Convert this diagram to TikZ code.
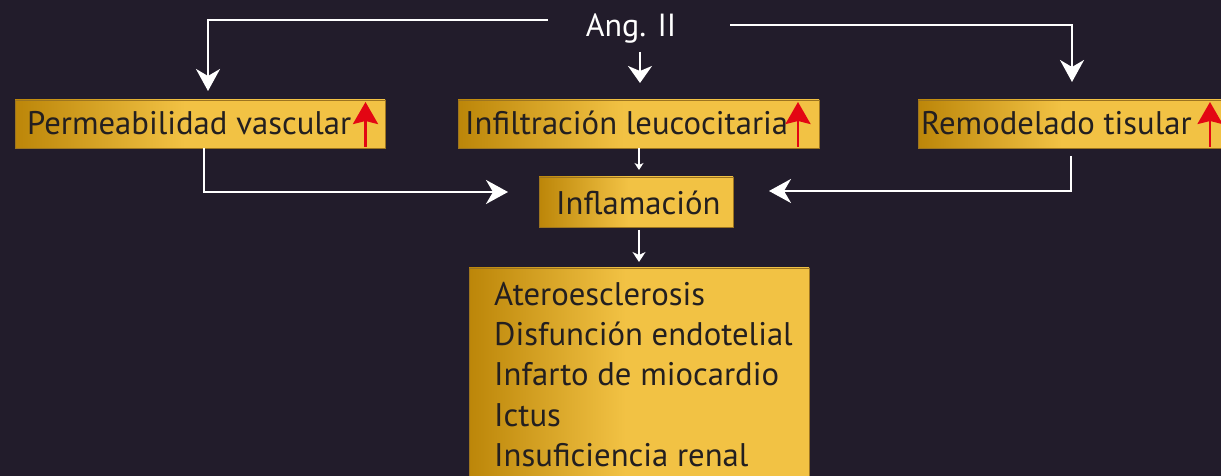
\documentclass[tikz,border=0pt]{standalone}
\usepackage{fontspec}
\setmainfont{PT Sans}
\usetikzlibrary{arrows.meta}
\definecolor{bg}{HTML}{221C2B}
\definecolor{gd}{HTML}{BC8609}
\definecolor{gl}{HTML}{F2C244}
\definecolor{gb}{HTML}{9C7420}
\definecolor{tx}{HTML}{231F20}
\definecolor{rd}{HTML}{E30613}
\pgfdeclarehorizontalshading{goldsh}{100bp}{color(0bp)=(gd); color(25bp)=(gd); color(48bp)=(gl); color(100bp)=(gl)}
\tikzset{
  goldbox/.style={rectangle, draw=gb, line width=0.8pt, shading=goldsh, inner sep=0pt},
  lbl/.style={text=tx, font=\fontsize{32.7}{38}\selectfont, inner sep=0pt, anchor=base west},
  wlbl/.style={text=white, font=\fontsize{32}{38}\selectfont, inner sep=0pt, anchor=base},
  bigarr/.style={draw=white, line width=2.3pt, -{Stealth[length=22pt,width=24pt,inset=7pt]}},
  midarr/.style={draw=white, line width=2pt, -{Stealth[length=17pt,width=24pt,inset=5pt]}},
  thinarr/.style={draw=white, line width=1.2pt, -{Stealth[length=7pt,width=9pt,inset=2pt]}},
  medarr/.style={draw=white, line width=1.5pt, -{Stealth[length=10pt,width=13pt,inset=3pt]}},
  redarr/.style={draw=rd, line width=2.6pt, -{Stealth[length=22pt,width=25pt,inset=3pt]}}
}
\begin{document}
\begin{tikzpicture}[x=1pt,y=1pt]
\useasboundingbox (0,0) rectangle (1221,476);
\fill[bg] (0,0) rectangle (1221,476);
% boxes
\node[goldbox, minimum width=370pt, minimum height=48pt] (perm) at (200,352) {};
\node[goldbox, minimum width=361pt, minimum height=48pt] (infil) at (638.5,352) {};
\node[goldbox, minimum width=312pt, minimum height=48pt] (remod) at (1074,352) {};
\node[goldbox, minimum width=194pt, minimum height=50pt] (infl) at (636,274) {};
\node[goldbox, minimum width=340pt, minimum height=232pt] (bot) at (639,92) {};
% texts
\node[wlbl] (ang) at (631,439) {Ang. II};
\node[lbl] (permt) at (27,341) {Permeabilidad vascular};
\node[lbl] (infilt) at (465,341) {Infiltración leucocitaria};
\node[lbl] (remodt) at (921,341) {Remodelado tisular};
\node[lbl] (inflt) at (556,261) {Inflamación};
\node[lbl] (b1) at (494,170) {Ateroesclerosis};
\node[lbl] (b2) at (494,130) {Disfunción endotelial};
\node[lbl] (b3) at (494,90) {Infarto de miocardio};
\node[lbl] (b4) at (494,49) {Ictus};
\node[lbl] (b5) at (494,9) {Insuficiencia renal};
% red arrows
\draw[redarr] (365.5,329) -- (365.5,374);
\draw[redarr] (798,329) -- (798,374);
\draw[redarr] (1210,329) -- (1210,374);
% coordinates
\coordinate (angL) at (548,456);
\coordinate (angR) at (730,451);
\coordinate (angB) at (640,424);
\coordinate (permIn) at (208,385);
\coordinate (remodIn) at (1072,394);
\coordinate (infilIn) at (640,393);
\coordinate (permOut) at (204,328);
\coordinate (remodOut) at (1071,320);
\coordinate (inflInL) at (508,284);
\coordinate (inflInR) at (769,285);
\coordinate (infilOut) at (639,328);
\coordinate (inflInT) at (639,306);
\coordinate (inflOut) at (639,246);
\coordinate (botIn) at (639,214);
% connectors
\draw[bigarr] (angL) -| (permIn);
\draw[bigarr] (angR) -| (remodIn);
\draw[midarr] (angB) -- (infilIn);
\draw[bigarr] (permOut) |- (inflInL);
\draw[bigarr] (remodOut) |- (inflInR);
\draw[thinarr] (infilOut) -- (inflInT);
\draw[medarr] (inflOut) -- (botIn);
\end{tikzpicture}
\end{document}
